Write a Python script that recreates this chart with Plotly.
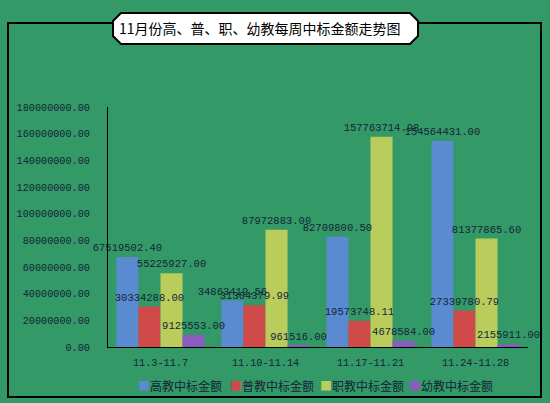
import plotly.graph_objects as go

weeks = ["11.3-11.7", "11.10-11.14", "11.17-11.21", "11.24-11.28"]
gaojiao = [67519502.40, 34863419.56, 82709800.50, 154564431.00]
pujiao = [30334288.00, 31304379.99, 19573748.11, 27339780.79]
zhijiao = [55225927.00, 87972883.00, 157763714.98, 81377865.60]
youjiao = [9125553.00, 961516.00, 4678584.00, 2155911.00]

series = [
    ("高教中标金额", gaojiao, "#5a8ad0"),
    ("普教中标金额", pujiao, "#d04a4a"),
    ("职教中标金额", zhijiao, "#b9cc5c"),
    ("幼教中标金额", youjiao, "#8a5cbe"),
]

W, H = 550, 403
L, R, T, B = 108, 528, 107, 347  # plot area in pixels
BG = "#339966"
TXT = "#14243a"
MONO = "Liberation Mono, DejaVu Sans Mono, monospace"
CJK = "Noto Sans CJK SC, sans-serif"


def px(x):
    return (x - L) / (R - L)


def py(y):
    return (B - y) / (B - T)


fig = go.Figure()
for i, (name, vals, col) in enumerate(series):
    fig.add_trace(go.Bar(
        x=weeks, y=vals, name=name, offsetgroup=str(i),
        marker=dict(color=col, line=dict(width=0)),
        showlegend=False,
    ))
# value labels drawn on top of every bar (same slots, invisible bars)
for i, (name, vals, col) in enumerate(series):
    fig.add_trace(go.Bar(
        x=weeks, y=vals, name=name, offsetgroup=str(i),
        marker=dict(color="rgba(0,0,0,0)", line=dict(width=0)),
        texttemplate="%{y:.2f}", textposition="outside", constraintext="none",
        textfont=dict(family=MONO, size=10.5, color=TXT),
        cliponaxis=False, showlegend=False, hoverinfo="skip",
    ))

# outer frame + title box
shapes = [
    dict(type="rect", xref="paper", yref="paper",
         x0=px(8), x1=px(541), y0=py(23), y1=py(397),
         line=dict(color="black", width=2), fillcolor="rgba(0,0,0,0)", layer="below"),
]
box = [(121, 13), (410, 13), (418, 21), (418, 36), (410, 44), (121, 44), (113, 36), (113, 21)]
path = "M " + " L ".join(f"{px(a)},{py(b)}" for a, b in box) + " Z"
shapes.append(dict(type="path", xref="paper", yref="paper", path=path,
                   fillcolor="white", line=dict(color="black", width=2)))

annotations = [dict(text="11月份高、普、职、幼教每周中标金额走势图",
                    xref="paper", yref="paper", x=px(259.5), y=py(28.5),
                    xanchor="center", yanchor="middle", showarrow=False,
                    font=dict(family=CJK, size=14, color="black"))]

# legend row
legend_x = [136, 228, 318, 407]
for (name, vals, col), lx in zip(series, legend_x):
    annotations.append(dict(
        text=f"<span style='color:{col}'>■</span>{name}",
        xref="paper", yref="paper", x=px(lx), y=py(385),
        xanchor="left", yanchor="middle", showarrow=False,
        font=dict(family=CJK, size=12, color=TXT)))

fig.update_layout(
    width=W, height=H,
    margin=dict(l=L, r=W - R, t=T, b=H - B, pad=0),
    paper_bgcolor=BG, plot_bgcolor=BG,
    barmode="group", bargap=0.16, bargroupgap=0,
    showlegend=False,
    shapes=shapes,
    annotations=annotations,
)
fig.update_xaxes(showline=True, linecolor="black", linewidth=1, ticks="",
                 ticklabelstandoff=6,
                 tickfont=dict(family=MONO, size=10.2, color=TXT), showgrid=False)
fig.update_yaxes(range=[0, 180000000], dtick=20000000, tickformat=".2f",
                 showline=True, linecolor="black", linewidth=1, ticks="",
                 showgrid=False, zeroline=False, ticklabelstandoff=15,
                 tickfont=dict(family=MONO, size=10.2, color=TXT))

# page has a default 8px body margin; drop it so the figure fills the window
fig.write_html("out.html", config={"displayModeBar": False},
               post_script="document.body.style.margin='0';")
